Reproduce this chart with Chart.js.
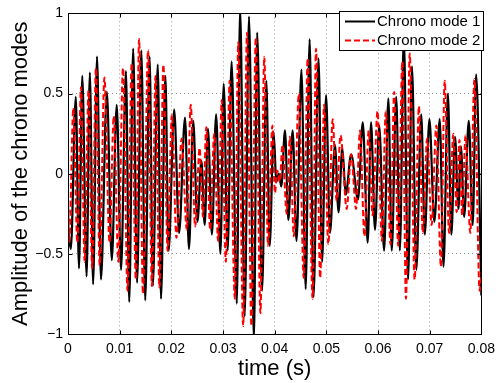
<!DOCTYPE html>
<html>
<head>
<meta charset="utf-8">
<title>Chrono modes</title>
<script src="https://cdn.jsdelivr.net/npm/chart.js@4.4.1/dist/chart.umd.min.js"></script>
<style>
  html, body { margin: 0; padding: 0; background: #fff; }
  #wrap { width: 502px; height: 383px; }
</style>
</head>
<body>
<div id="wrap"><canvas id="modesChart" width="502" height="383"></canvas></div>
<script>
// turning points: time (s) and amplitude
const mode1Time = [
    0, 0.00055, 0.00151, 0.00213, 0.00276, 0.00360, 0.00423, 0.00486, 0.00562, 0.00638,
    0.00752, 0.00848, 0.00943, 0.01027, 0.01122, 0.01185, 0.01261, 0.01337, 0.01419, 0.01495,
    0.01579, 0.01642, 0.01737, 0.01800, 0.01884, 0.01947, 0.02055, 0.02150, 0.02265, 0.02341,
    0.02423, 0.02505, 0.02581, 0.02646, 0.02709, 0.02785, 0.02867, 0.02950, 0.03013, 0.03090,
    0.03166, 0.03267, 0.03331, 0.03419, 0.03503, 0.03598, 0.03661, 0.03756, 0.03838, 0.03903,
    0.03979, 0.04032, 0.04080, 0.04128, 0.04200, 0.04265, 0.04347, 0.04423, 0.04518, 0.04600,
    0.04676, 0.04752, 0.04848, 0.04918, 0.04994, 0.05070, 0.05166, 0.05236, 0.05309, 0.05375,
    0.05480, 0.05613, 0.05705, 0.05800, 0.05865, 0.05941, 0.06023, 0.06118, 0.06200, 0.06265,
    0.06352, 0.06423, 0.06499, 0.06581, 0.06657, 0.06741, 0.06836, 0.06905, 0.06994, 0.07090,
    0.07194, 0.07267, 0.07352, 0.07419, 0.07490, 0.07556, 0.07604, 0.07667, 0.07756, 0.07832,
    0.07899, 0.08000
];
const mode1Amp = [
    -0.35, -0.47, 0.48, -0.59, 0.61, -0.64, 0.63, -0.69, 0.73, -0.66,
    0.51, -0.54, 0.43, -0.60, 0.64, -0.80, 0.78, -0.68, 0.77, -0.79,
    0.73, -0.70, 0.68, -0.78, 0.61, -0.48, 0.40, -0.37, 0.35, -0.47,
    0.33, -0.30, 0.08, -0.32, 0.28, -0.38, 0.37, -0.50, 0.56, -0.48,
    0.70, -0.81, 1.03, -0.89, 0.98, -1.03, 0.88, -0.73, 0.58, -0.45,
    0.26, -0.05, 0.00, -0.08, 0.27, -0.29, 0.27, -0.42, 0.65, -0.72,
    0.84, -0.77, 0.72, -0.55, 0.49, -0.37, 0.18, -0.24, 0.16, -0.13,
    0.12, -0.16, 0.32, -0.43, 0.32, -0.35, 0.30, -0.48, 0.47, -0.48,
    0.48, -0.48, 0.85, -0.66, 0.67, -0.60, 0.37, -0.38, 0.34, -0.30,
    0.34, -0.58, 0.50, -0.38, 0.23, -0.22, 0.17, -0.27, 0.33, -0.32,
    0.62, -0.76
];
const mode2Time = [
    0, 0.00023, 0.00103, 0.00181, 0.00251, 0.00322, 0.00398, 0.00467, 0.00541, 0.00613,
    0.00705, 0.00804, 0.00886, 0.00975, 0.01065, 0.01152, 0.01232, 0.01312, 0.01375, 0.01451,
    0.01550, 0.01623, 0.01693, 0.01770, 0.01846, 0.01928, 0.02010, 0.02099, 0.02200, 0.02299,
    0.02375, 0.02461, 0.02547, 0.02613, 0.02676, 0.02752, 0.02829, 0.02905, 0.02975, 0.03055,
    0.03128, 0.03229, 0.03295, 0.03390, 0.03463, 0.03550, 0.03634, 0.03724, 0.03798, 0.03871,
    0.03956, 0.04004, 0.04051, 0.04099, 0.04150, 0.04232, 0.04295, 0.04371, 0.04467, 0.04562,
    0.04638, 0.04733, 0.04800, 0.04880, 0.04956, 0.05038, 0.05122, 0.05198, 0.05274, 0.05394,
    0.05480, 0.05575, 0.05651, 0.05737, 0.05819, 0.05895, 0.05990, 0.06074, 0.06150, 0.06242,
    0.06312, 0.06390, 0.06470, 0.06541, 0.06613, 0.06709, 0.06790, 0.06867, 0.06950, 0.07038,
    0.07128, 0.07217, 0.07290, 0.07375, 0.07457, 0.07522, 0.07575, 0.07629, 0.07693, 0.07785,
    0.07865, 0.07966, 0.08000
];
const mode2Amp = [
    -0.15, -0.43, 0.41, -0.43, 0.54, -0.55, 0.52, -0.59, 0.66, -0.57,
    0.60, -0.43, 0.36, -0.55, 0.66, -0.73, 0.69, -0.66, 0.84, -0.75,
    0.77, -0.70, 0.61, -0.71, 0.68, -0.48, 0.37, -0.40, 0.22, -0.35,
    0.43, -0.33, 0.16, -0.27, 0.29, -0.35, 0.25, -0.42, 0.46, -0.55,
    0.58, -0.78, 0.82, -0.95, 0.88, -0.95, 0.85, -0.87, 0.73, -0.45,
    0.30, -0.12, 0.02, -0.05, 0.18, -0.25, 0.23, -0.39, 0.50, -0.65,
    0.72, -0.78, 0.78, -0.65, 0.43, -0.44, 0.34, -0.17, 0.24, -0.22,
    0.12, -0.22, 0.27, -0.39, 0.27, -0.26, 0.39, -0.42, 0.39, -0.44,
    0.51, -0.45, 0.70, -0.78, 0.75, -0.66, 0.42, -0.37, 0.22, -0.32,
    0.30, -0.58, 0.58, -0.37, 0.25, -0.24, 0.21, -0.26, 0.24, -0.37,
    0.59, -0.73, -0.62
];
const seriesNames = ['Chrono mode 1', 'Chrono mode 2'];
const xTicks = [0, 0.01, 0.02, 0.03, 0.04, 0.05, 0.06, 0.07, 0.08];
const yTicks = [-1, -0.5, 0, 0.5, 1];

const FONT = '"Liberation Sans", Arial, Helvetica, sans-serif';

function toPoints(times, amps) {
    return times.map((t, i) => ({ x: t, y: amps[i] }));
}

// matlab-like box, inward ticks and legend
const matlabFrame = {
    id: 'matlabFrame',
    afterDraw(chart) {
        const { ctx, chartArea: a, scales: { x, y } } = chart;
        const L = Math.round(a.left) + 0.5, R = Math.round(a.right) + 0.5;
        const T = Math.round(a.top) + 0.5, B = Math.round(a.bottom) + 0.5;
        ctx.save();
        ctx.strokeStyle = '#000';
        ctx.lineWidth = 1;
        ctx.setLineDash([]);
        ctx.beginPath();
        xTicks.forEach(v => {
            const px = Math.round(x.getPixelForValue(v)) + 0.5;
            ctx.moveTo(px, B); ctx.lineTo(px, B - 4);
            ctx.moveTo(px, T); ctx.lineTo(px, T + 4);
        });
        yTicks.forEach(v => {
            const py = Math.round(y.getPixelForValue(v)) + 0.5;
            ctx.moveTo(L, py); ctx.lineTo(L + 4, py);
            ctx.moveTo(R, py); ctx.lineTo(R - 4, py);
        });
        ctx.stroke();
        ctx.strokeRect(L, T, R - L, B - T);

        // legend box
        const lx = 339.5, ly = 11.5, lw = 144, lh = 39;
        ctx.fillStyle = '#fff';
        ctx.fillRect(lx, ly, lw, lh);
        ctx.strokeRect(lx, ly, lw, lh);
        chart.data.datasets.forEach((ds, i) => {
            const yy = 21.5 + i * 19;
            ctx.strokeStyle = ds.borderColor;
            ctx.lineWidth = 2;
            ctx.setLineDash(ds.borderDash || []);
            ctx.beginPath();
            ctx.moveTo(345, yy);
            ctx.lineTo(375, yy);
            ctx.stroke();
            ctx.setLineDash([]);
            ctx.fillStyle = '#000';
            ctx.font = '15px ' + FONT;
            ctx.textBaseline = 'middle';
            ctx.textAlign = 'left';
            ctx.fillText(ds.label, 377, yy + 0.5);
        });
        ctx.restore();
    }
};

const ctx = document.getElementById('modesChart').getContext('2d');
const modesChart = new Chart(ctx, {
    type: 'line',
    data: {
        datasets: [{
            label: seriesNames[0],
            data: toPoints(mode1Time, mode1Amp),
            borderColor: '#000000',
            borderWidth: 2.2,
            order: 2
        }, {
            label: seriesNames[1],
            data: toPoints(mode2Time, mode2Amp),
            borderColor: '#ff0000',
            borderWidth: 2,
            borderDash: [6, 3],
            order: 1
        }]
    },
    options: {
        responsive: false,
        animation: false,
        events: [],
        layout: { padding: { left: 0, right: 14, top: 6, bottom: 0 } },
        elements: {
            point: { radius: 0 },
            line: { cubicInterpolationMode: 'monotone', fill: false }
        },
        scales: {
            x: {
                type: 'linear',
                min: 0,
                max: 0.08,
                afterFit: s => { s.height = 49; },
                afterBuildTicks: s => { s.ticks = xTicks.map(v => ({ value: v })); },
                ticks: {
                    autoSkip: false,
                    maxRotation: 0,
                    padding: 7,
                    color: '#000',
                    font: { family: FONT, size: 14 },
                    callback: v => String(Number(v.toFixed(2)))
                },
                grid: { color: 'rgba(0,0,0,0.4)', lineWidth: 1, drawTicks: false },
                border: { display: false, dash: [1, 3] },
                title: {
                    display: true,
                    text: 'time (s)',
                    color: '#000',
                    font: { family: FONT, size: 22 },
                    padding: { top: 0, bottom: 1 }
                }
            },
            y: {
                min: -1,
                max: 1,
                afterFit: s => { s.width = 68; },
                afterBuildTicks: s => { s.ticks = yTicks.map(v => ({ value: v })); },
                ticks: {
                    padding: 5,
                    color: '#000',
                    font: { family: FONT, size: 14 },
                    callback: v => String(v).replace('-', '\u2212')
                },
                grid: { color: 'rgba(0,0,0,0.4)', lineWidth: 1, drawTicks: false },
                border: { display: false, dash: [1, 3] },
                title: {
                    display: true,
                    text: 'Amplitude of the chrono modes',
                    color: '#000',
                    font: { family: FONT, size: 22 },
                    padding: { top: 8, bottom: 0 }
                }
            }
        },
        plugins: {
            legend: { display: false },
            tooltip: { enabled: false }
        }
    },
    plugins: [matlabFrame]
});
</script>
</body>
</html>
